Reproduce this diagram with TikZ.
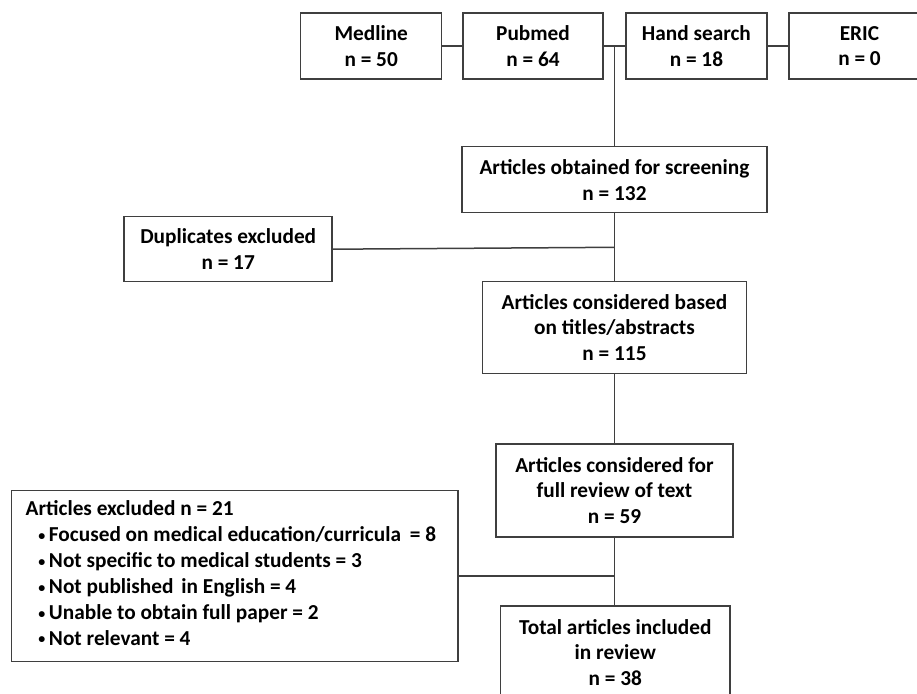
\documentclass[tikz,border=0pt]{standalone}
\usepackage{fontspec}
\setmainfont{Carlito}
\definecolor{linec}{HTML}{3F3F3F}
\tikzset{
  box/.style={draw=linec, line width=1.5pt, align=center, inner sep=0pt,
    font=\fontsize{21.3}{25.8}\selectfont\bfseries, text=black},
  link/.style={draw=linec, line width=1.5pt}
}
\newcommand{\bul}{\makebox[23.3pt][l]{\hspace{12.8pt}\raisebox{1.5pt}{\fontsize{14}{14}\selectfont\textbullet}}}
\begin{document}
\begin{tikzpicture}[x=1pt,y=-1pt]
\path[use as bounding box, clip] (0,0) rectangle (917,693);
\fill[white] (0,0) rectangle (917,693);
% top row
\node[box, minimum width=141pt, minimum height=66pt] (med) at (371.2,46) {Medline\\n = 50};
\node[box, minimum width=140pt, minimum height=66pt] (pub) at (533,46) {Pubmed\\n = 64};
\node[box, minimum width=141pt, minimum height=66pt] (hand) at (696.4,46) {Hand search\\n = 18};
\node[box, minimum width=141pt, minimum height=66pt] (eric) at (859.5,46) {ERIC\\n = 0};
\coordinate (j) at (614.5,46);
% main column
\node[box, minimum width=305pt, minimum height=66pt] (obt) at (614.5,179.7) {Articles obtained for screening\\n = 132};
\node[box, minimum width=208pt, minimum height=65pt] (dup) at (228.2,249.2) {Duplicates excluded\\n = 17};
\coordinate (d) at (614.5,247.3);
\node[box, minimum width=264pt, minimum height=91.6pt] (based) at (614.5,327.5) {Articles considered based\\on titles/abstracts\\n = 115};
\node[box, minimum width=236.6pt, minimum height=92.7pt] (full) at (614.5,490.4) {Articles considered for\\full review of text\\n = 59};
\node[box, minimum width=446.3pt, minimum height=171pt, align=left,
  font=\fontsize{21.3}{25.9}\selectfont\bfseries] (excl) at (234.85,576.2) {Articles excluded n = 21\\
\bul Focused on medical education/curricula\hspace{4pt} = 8\rule{8pt}{0pt}\\
\bul Not specific to medical students = 3\\
\bul Not published\hspace{3pt} in English = 4\\
\bul Unable to obtain full paper = 2\\
\bul Not relevant = 4\rule[-6pt]{0pt}{6pt}};
\coordinate (e) at (614.5,576.2);
\node[box, minimum width=229.3pt, minimum height=93pt] (total) at (615.3,652.5) {Total articles included\\in review\\n = 38};
% connectors
\draw[link] (med.east) -- (pub.west);
\draw[link] (pub.east) -- (hand.west);
\draw[link] (hand.east) -- (eric.west);
\draw[link] (j) -- (j |- obt.north);
\draw[link] (obt.south -| j) -- (j |- based.north);
\draw[link] (dup.east) -- (d);
\draw[link] (based.south -| j) -- (j |- full.north);
\draw[link] (full.south -| j) -- (j |- total.north);
\draw[link] (excl.east) -- (e);
\end{tikzpicture}
\end{document}
